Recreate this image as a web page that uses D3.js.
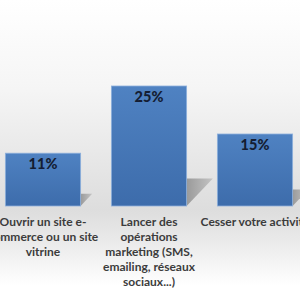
<!DOCTYPE html>
<html>
<head>
<meta charset="utf-8">
<script src="https://cdn.jsdelivr.net/npm/d3@7"></script>
<style>
  body { margin: 0; overflow: hidden; }
  svg { display: block; }
</style>
</head>
<body>
<div id="chart"></div>
<script>
const categories = [
  ['Ouvrir un site e-', 'commerce ou un site', 'vitrine'],
  ['Lancer des', 'opérations', 'marketing (SMS,', 'emailing, réseaux', 'sociaux...)'],
  ['Cesser votre activité']
];
const values = [11, 25, 15];

const width = 300, height = 300;
const baseline = 206;

const svg = d3.select('#chart')
  .append('svg')
  .attr('width', width)
  .attr('height', height);

const defs = svg.append('defs');
const bg = defs.append('linearGradient')
  .attr('id', 'bg').attr('x1', 0).attr('y1', 0).attr('x2', 0).attr('y2', 1);
[[0, '#ffffff'], [0.3, '#f5f5f5'], [0.55, '#e6e6e6'], [0.7, '#dddddd'], [0.82, '#ececec'], [0.95, '#ffffff']]
  .forEach(([o, c]) => bg.append('stop').attr('offset', o).attr('stop-color', c));

const barGrad = defs.append('linearGradient')
  .attr('id', 'bar').attr('x1', 0).attr('y1', 0).attr('x2', 0).attr('y2', 1);
barGrad.append('stop').attr('offset', 0).attr('stop-color', '#4f82c2');
barGrad.append('stop').attr('offset', 1).attr('stop-color', '#3d6cab');

const shadowGrad = defs.append('linearGradient')
  .attr('id', 'shadow').attr('x1', 0).attr('y1', 0).attr('x2', 1).attr('y2', 0);
shadowGrad.append('stop').attr('offset', 0).attr('stop-color', '#9a9a9a');
shadowGrad.append('stop').attr('offset', 1).attr('stop-color', '#c4c4c4');

svg.append('rect')
  .attr('width', width).attr('height', height)
  .attr('fill', 'url(#bg)');

const x = d3.scaleBand()
  .domain(d3.range(values.length))
  .range([-10, 308])
  .paddingInner(0.29)
  .paddingOuter(0.145);

const y = d3.scaleLinear()
  .domain([0, 25])
  .range([baseline, baseline - 120]);

const g = svg.append('g');

// drop shadows
g.selectAll('.shadow')
  .data(values)
  .join('polygon')
  .attr('class', 'shadow')
  .attr('fill', 'url(#shadow)')
  .attr('points', (d, i) => {
    const r = x(i) + x.bandwidth();
    const h = (y(0) - y(d)) * 0.23;
    return [[r, y(0) - h], [r + h * 0.95, y(0) - h], [r, y(0)]].map(p => p.join(',')).join(' ');
  });

g.selectAll('.bar')
  .data(values)
  .join('rect')
  .attr('class', 'bar')
  .attr('x', (d, i) => x(i))
  .attr('y', d => y(d))
  .attr('width', x.bandwidth())
  .attr('height', d => y(0) - y(d))
  .attr('fill', 'url(#bar)')
  .attr('stroke', '#8eb0dc')
  .attr('stroke-width', 0.8);

g.selectAll('.value')
  .data(values)
  .join('text')
  .attr('class', 'value')
  .attr('x', (d, i) => x(i) + x.bandwidth() / 2)
  .attr('y', d => y(d) + 16)
  .attr('text-anchor', 'middle')
  .attr('font-family', 'Lato, "Open Sans", sans-serif')
  .attr('font-weight', 900)
  .attr('font-size', 14.5)
  .attr('fill', '#141d33')
  .text(d => d + '%');

const labels = g.selectAll('.label')
  .data(categories)
  .join('text')
  .attr('class', 'label')
  .attr('text-anchor', 'middle')
  .attr('font-family', 'Lato, "Open Sans", sans-serif')
  .attr('font-weight', 'bold')
  .attr('font-size', 12)
  .attr('fill', '#3c3c3c');

labels.selectAll('tspan')
  .data((d, i) => d.map(t => ({t, i})))
  .join('tspan')
  .attr('x', d => x(d.i) + x.bandwidth() / 2)
  .attr('y', (d, j) => 226 + j * 15)
  .text(d => d.t);
</script>
</body>
</html>
